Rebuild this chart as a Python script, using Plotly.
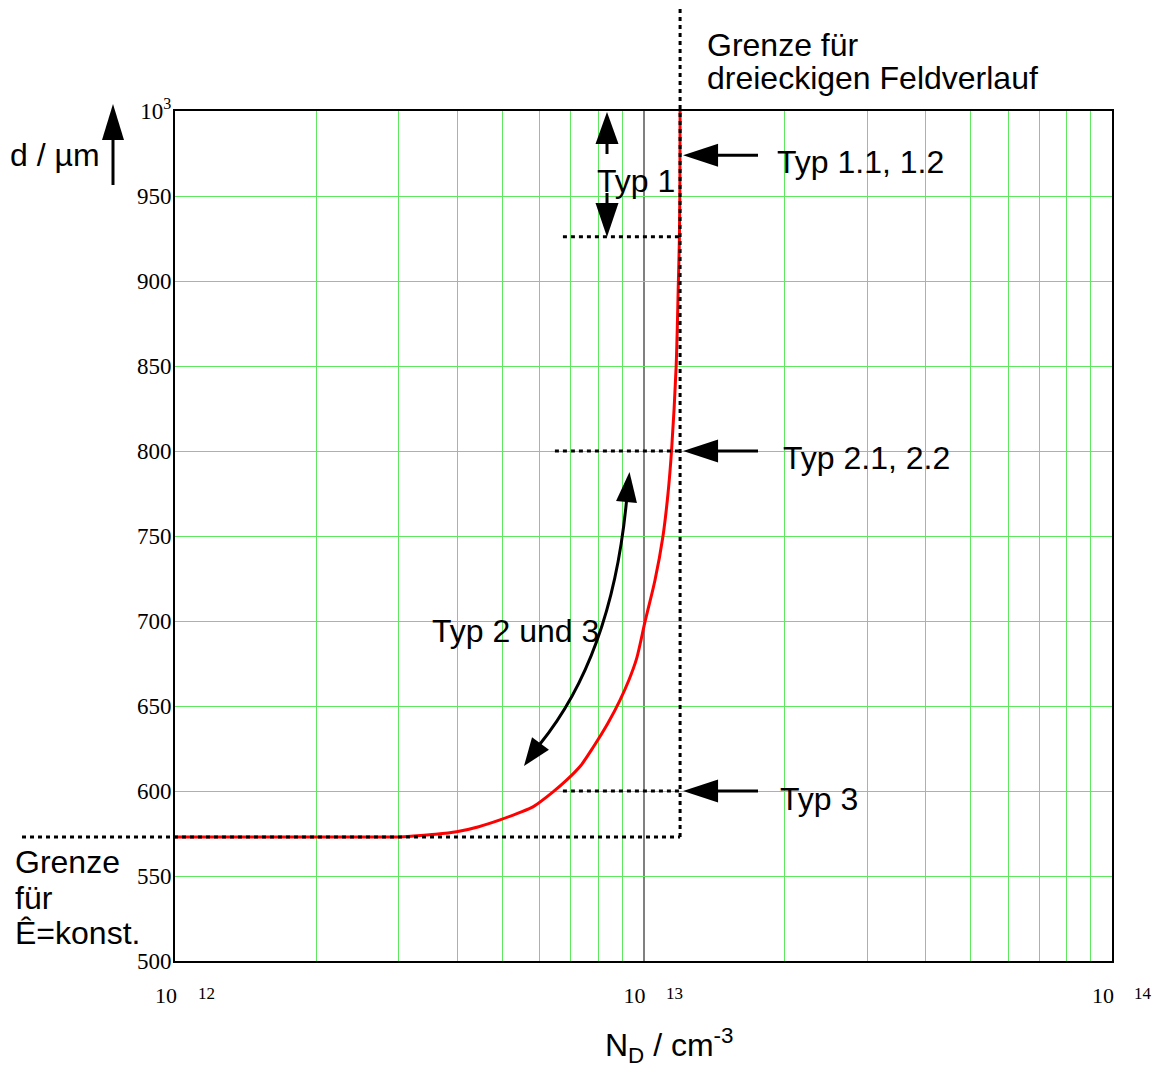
import numpy as np
import plotly.graph_objects as go

# ---------------- data ----------------
N_D = [1.0e12, 2.0e12, 3.0e12, 3.23e12, 3.6e12, 3.99e12, 4.45e12, 4.94e12, 5.4e12,
       5.82e12, 6.42e12, 6.86e12, 7.35e12, 7.82e12, 8.4e12, 8.91e12, 9.3e12, 9.67e12,
       1.0075e13, 1.058e13, 1.10e13, 1.128e13, 1.148e13, 1.174e13, 1.187e13, 1.193e13,
       1.196e13, 1.197e13]
d_um = [573, 573, 573, 573.5, 574.5, 576, 579, 583, 587,
        590.8, 599.6, 606.5, 615, 626, 640, 653.5, 665, 678,
        699.6, 724, 749.6, 775, 800.6, 849.6, 899.6, 925.7,
        960, 1000]

d_const = 573          # Grenze für Ê=konst.
N_tri = 1.197e13       # Grenze für dreieckigen Feldverlauf
d_typ1 = 926
d_typ11 = 974
d_typ2 = 800
d_typ3 = 600
N_typ_start = [6.73e12, 6.47e12, 6.73e12]   # start of dotted level lines (Typ 1, 2, 3)

x_exp_range = [12, 14]
y_range = [500, 1000]
y_tickvals = [500, 550, 600, 650, 700, 750, 800, 850, 900, 950, 1000]
y_ticktext = ["500", "550", "600", "650", "700", "750", "800", "850", "900", "950",
              "10<sup>3</sup>"]
x_tickvals = [1e12, 1e13, 1e14]
x_ticktext = ["10", "10", "10"]
x_exponents = ["12", "13", "14"]
x_minor = [m * 10.0 ** e for e in (12, 13) for m in range(2, 10)]

# ---------------- geometry helpers ----------------
WIDTH, HEIGHT = 1162, 1066
L, T, W, H = 175, 111, 937, 850


def px(x):
    return (x - L) / W


def py(y):
    return (T + H - y) / H


def xp(N):
    return (np.log10(N) - x_exp_range[0]) / (x_exp_range[1] - x_exp_range[0])


def yp(d):
    return (d - y_range[0]) / (y_range[1] - y_range[0])


def ypx(d):  # data -> pixel y
    return T + H - yp(d) * H


def xpx(N):
    return L + xp(N) * W


SANS = "Liberation Sans, Arial, sans-serif"
SERIF = "Liberation Serif, Times New Roman, serif"
FS = 32
GREEN = "#5ee85e"

fig = go.Figure()
fig.add_trace(go.Scatter(x=N_D, y=d_um, mode="lines",
                         line=dict(color="#ff0000", width=3, shape="spline", smoothing=0.8),
                         showlegend=False, hoverinfo="skip"))

shapes = []
dot = dict(color="black", width=3, dash="4px,4px")

# dotted boundary lines
shapes.append(dict(type="line", xref="paper", yref="paper",
                   x0=xp(N_tri), x1=xp(N_tri), y0=yp(d_const), y1=py(8), line=dot))
shapes.append(dict(type="line", xref="paper", yref="paper",
                   x0=px(22), x1=xp(N_tri), y0=yp(d_const), y1=yp(d_const), line=dot))
for n0, dl in zip(N_typ_start, [d_typ1, d_typ2, d_typ3]):
    shapes.append(dict(type="line", xref="paper", yref="paper",
                       x0=xp(n0), x1=xp(N_tri) + 1 / W, y0=yp(dl), y1=yp(dl), line=dot))


def shaft(x0, y0, x1, y1, w=3):
    shapes.append(dict(type="line", xref="paper", yref="paper",
                       x0=px(x0), y0=py(y0), x1=px(x1), y1=py(y1),
                       line=dict(color="black", width=w)))


def head(tip, base, hw=11.5):
    tx, ty = tip
    bx, by = base
    dx, dy = tx - bx, ty - by
    ln = (dx * dx + dy * dy) ** 0.5
    nx, ny = -dy / ln, dx / ln
    p1 = (bx + nx * hw, by + ny * hw)
    p2 = (bx - nx * hw, by - ny * hw)
    path = "M {:.5f},{:.5f} L {:.5f},{:.5f} L {:.5f},{:.5f} Z".format(
        px(tx), py(ty), px(p1[0]), py(p1[1]), px(p2[0]), py(p2[1]))
    shapes.append(dict(type="path", xref="paper", yref="paper", path=path,
                       fillcolor="black", line=dict(width=0)))


# y-axis title arrow
shaft(113, 185, 113, 138)
head((113, 104), (113, 140), 11)

# Typ 1 double arrow
shaft(607, 154, 607, 142)
head((607, 112), (607, 144))
shaft(607, 193, 607, 205)
head((607, 237), (607, 203))

# right-hand arrows
xt = xpx(N_tri) + 3
for dl in [d_typ11, d_typ2, d_typ3]:
    yy = ypx(dl)
    shaft(758, yy, xt + 33, yy)
    head((xt, yy), (xt + 35, yy))

# curved double arrow "Typ 2 und 3"
b0 = (540, 744)
c = (612, 655)
b1 = (626.5, 501)
path = "M {:.5f},{:.5f} Q {:.5f},{:.5f} {:.5f},{:.5f}".format(
    px(b0[0]), py(b0[1]), px(c[0]), py(c[1]), px(b1[0]), py(b1[1]))
shapes.append(dict(type="path", xref="paper", yref="paper", path=path,
                   line=dict(color="black", width=3)))
head((629.5, 472), (626.5, 502), 10.5)
head((524, 766), (540.5, 743.5), 10.5)

annotations = []


def text(s, x, y, size=FS, font=SANS, anchor="left"):
    annotations.append(dict(text=s, xref="paper", yref="paper", x=px(x), y=py(y),
                            xanchor=anchor, yanchor="middle", showarrow=False,
                            font=dict(family=font, size=size, color="black")))


text("Grenze für", 705, 45)
text("dreieckigen Feldverlauf", 705, 78)
text("Typ 1.1, 1.2", 775, 162)
text("Typ 1", 595, 181)
text("Typ 2.1, 2.2", 781, 458)
text("Typ 2 und 3", 430, 631)
text("Typ 3", 778, 799)
text("Grenze", 13, 862)
text("für", 13, 898)
text("Ê=konst.", 13, 933)
text("d / µm", 8, 155)
text("N<sub>D</sub> / cm<sup>-3</sup>", 603, 1045)

for v, e in zip(x_tickvals, x_exponents):
    annotations.append(dict(text=e, xref="x", yref="paper", x=np.log10(v), y=py(993),
                            xshift=31, xanchor="center", yanchor="middle",
                            showarrow=False,
                            font=dict(family=SERIF, size=17, color="black")))

fig.update_layout(
    width=WIDTH, height=HEIGHT,
    margin=dict(l=L, r=WIDTH - L - W, t=T, b=HEIGHT - T - H),
    paper_bgcolor="white", plot_bgcolor="white",
    shapes=shapes, annotations=annotations,
    xaxis=dict(type="log", range=x_exp_range, tickvals=x_tickvals, ticktext=x_ticktext,
               ticks="", ticklabelshift=-9, ticklabelstandoff=14,
               tickfont=dict(family=SERIF, size=22, color="black"),
               showgrid=True, gridcolor="#808080", gridwidth=2,
               minor=dict(tickvals=x_minor, showgrid=True, gridcolor=GREEN,
                          gridwidth=1, ticks=""),
               showline=True, linecolor="black", linewidth=2, mirror=True,
               zeroline=False),
    yaxis=dict(range=y_range, tickvals=y_tickvals, ticktext=y_ticktext, ticks="",
               ticklabelstandoff=-3,
               tickfont=dict(family=SERIF, size=23, color="black"),
               showgrid=True, gridcolor=GREEN, gridwidth=1,
               showline=True, linecolor="black", linewidth=2, mirror=True,
               zeroline=False),
)

fig.write_html("out.html")
